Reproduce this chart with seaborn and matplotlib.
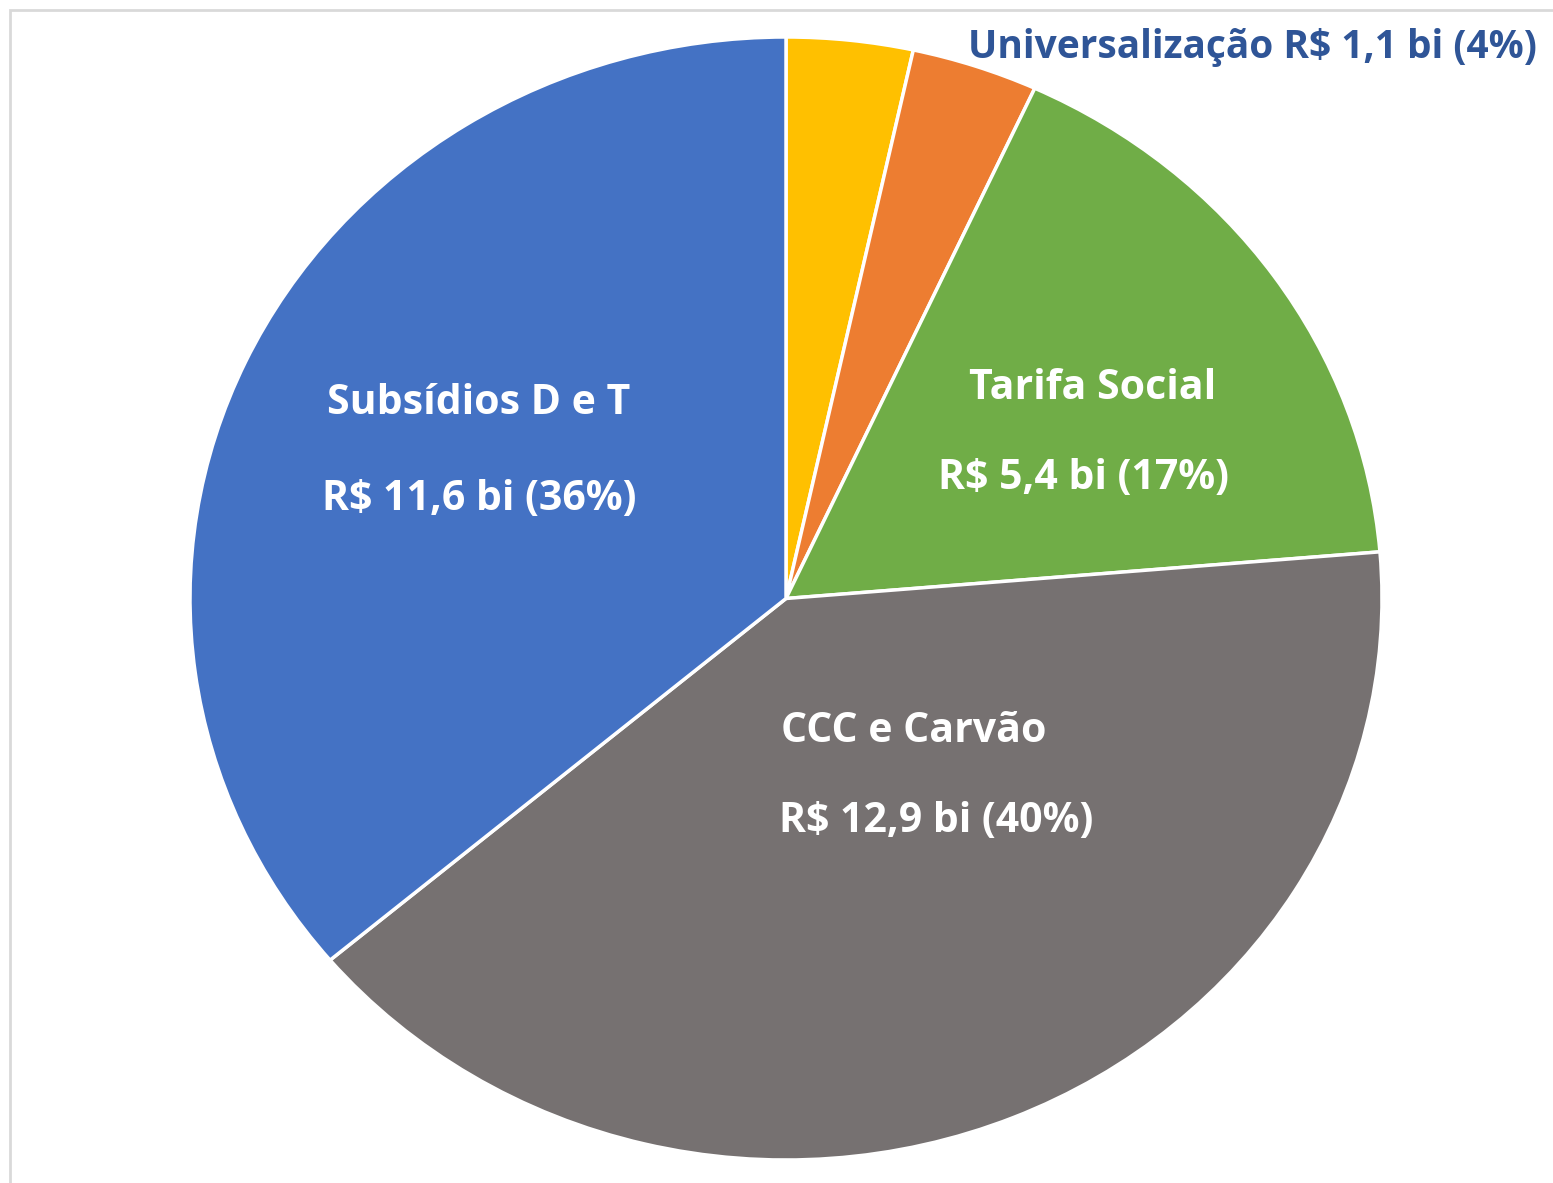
import numpy as np
import pandas as pd
import matplotlib.pyplot as plt
import seaborn as sns
from matplotlib.patches import Rectangle

# dados (R$ bi), ordem horária a partir do topo
categorias = ['Outros', 'Universalização', 'Tarifa Social', 'CCC e Carvão', 'Subsídios D e T']
valores = [1.1, 1.1, 5.4, 12.9, 11.6]
percentuais = ['3%', '4%', '17%', '40%', '36%']
valores_txt = ['1,1', '1,1', '5,4', '12,9', '11,6']
cores = ['#FFC000', '#ED7D31', '#70AD47', '#767171', '#4472C4']

df = pd.DataFrame({'categoria': categorias, 'valor': valores})

sns.set_theme(style='white')
plt.rcParams['font.family'] = ['Open Sans', 'DejaVu Sans']

fig = plt.figure(figsize=(15.53, 11.83), dpi=100)
ax = fig.add_axes([190 / 1553, 1 - 1160 / 1183, 1192 / 1553, 1123 / 1183])

ax.pie(df['valor'], colors=sns.color_palette(cores), startangle=90, counterclock=False,
       wedgeprops=dict(edgecolor='white', linewidth=2.5))
ax.set_aspect('auto')
ax.set_xlim(-1, 1)
ax.set_ylim(-1, 1)
ax.axis('off')

# rótulos dentro das fatias (posição, texto)
fs = 29.5
rotulos = {
    4: [(-0.515, 0.348), (-0.515, 0.176)],
    2: [(0.515, 0.374), (0.50, 0.214)],
    3: [(0.215, -0.237), (0.252, -0.398)],
}
for i, (p1, p2) in rotulos.items():
    ax.text(*p1, categorias[i], ha='center', va='center', color='white',
            fontsize=fs, fontweight='bold')
    ax.text(*p2, f'R$ {valores_txt[i]} bi ({percentuais[i]})', ha='center', va='center',
            color='white', fontsize=fs, fontweight='bold')

ax.text(0.305, 0.982, f'{categorias[1]} R$ {valores_txt[1]} bi ({percentuais[1]})',
        ha='left', va='center', color='#2F5597', fontsize=28, fontweight='bold', clip_on=False)

# moldura da área do gráfico
fig.patches.append(Rectangle((10 / 1553, -0.05), 1.2, 1.05 - 10 / 1183, transform=fig.transFigure,
                             fill=False, edgecolor='#D9D9D9', linewidth=2, zorder=0))

fig.savefig('out.png', dpi=100)
